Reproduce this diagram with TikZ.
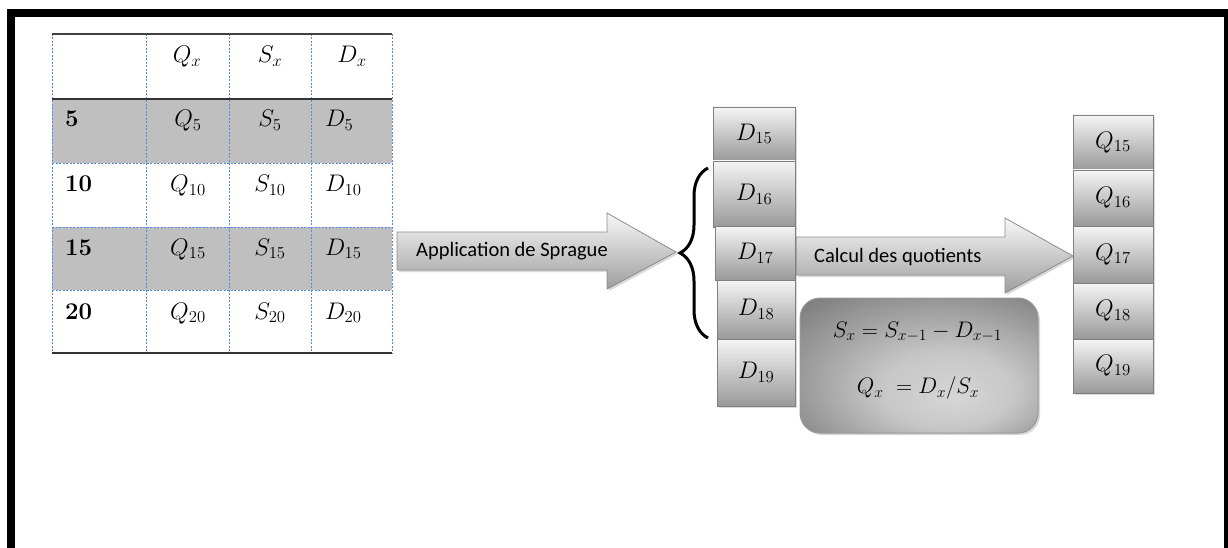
\RequirePackage{fix-cm}
\documentclass[tikz,border=0pt]{standalone}
\usepackage{fontspec}
\newfontfamily\calibri{Carlito}
\usetikzlibrary{shadows,decorations.pathreplacing}
\definecolor{tblue}{RGB}{80,140,230}
\pgfdeclareradialshading{fboxshade}{\pgfpoint{8bp}{-12bp}}{color(0bp)=(black!16); color(14bp)=(black!22); color(38bp)=(black!50); color(60bp)=(black!62)}
\begin{document}
\begin{tikzpicture}[x=1pt,y=-1pt,
  mfont/.style={font=\fontsize{24}{28}\selectfont},
  ffont/.style={font=\fontsize{22.5}{26}\selectfont},
  cell/.style={mfont, inner sep=0pt, anchor=base},
  cellw/.style={mfont, inner sep=0pt, anchor=base west},
  lbl/.style={font=\fontsize{24}{28}\selectfont\bfseries, inner sep=0pt, anchor=base west},
  blueline/.style={draw=tblue, dash pattern=on 2pt off 1.5pt, line width=0.8pt},
  gbox/.style={draw=black!50, line width=0.8pt, top color=black!4, bottom color=black!40,
     drop shadow={opacity=0.3, shadow xshift=2pt, shadow yshift=-2pt}, mfont, inner sep=0pt},
  blockarrow/.style={draw=black!45, line width=0.8pt, top color=black!3, bottom color=black!38,
     drop shadow={opacity=0.3, shadow xshift=2pt, shadow yshift=-2pt}},
  arrowlbl/.style={font=\calibri\fontsize{20.5}{24}\selectfont, inner sep=0pt, anchor=west},
  fbox/.style={draw=black!40, line width=1pt, shade, shading=fboxshade, rounded corners=20pt,
     drop shadow={opacity=0.3, shadow xshift=2pt, shadow yshift=-2pt}, inner sep=0pt}
]
\useasboundingbox (0,0) rectangle (1228,548);
% frame
\fill[black] (7,9) rectangle (1228,17);
\fill[black] (7,9) rectangle (15,548);
\fill[black] (1224,9) rectangle (1228,548);

% table
\fill[black!25] (52,99) rectangle (392,163);
\fill[black!25] (52,227) rectangle (392,290);
\foreach \xx in {52,146,229,311,392} \draw[blueline] (\xx,34) -- (\xx,353);
\foreach \yy in {163,227,290} \draw[blueline] (52,\yy) -- (392,\yy);
\draw[black!75, line width=1.2pt] (52,34) -- (392,34);
\draw[black!80, line width=2pt] (52,99) -- (392,99);
\draw[black!80, line width=1.5pt] (52,353) -- (392,353);

\node[cell] (qh) at (187,63) {$Q_x$};
\node[cell] (sh) at (270,63) {$S_x$};
\node[cell] (dh) at (352,63) {$D_x$};

\node[lbl] (r5) at (65,127) {5};
\node[cell] (q5) at (188,127) {$Q_5$};
\node[cell] (s5) at (270,127) {$S_5$};
\node[cellw] (d5) at (325,127) {$D_5$};

\node[lbl] (r10) at (65,192) {10};
\node[cell] (q10) at (188,192) {$Q_{10}$};
\node[cell] (s10) at (270,192) {$S_{10}$};
\node[cellw] (d10) at (325,192) {$D_{10}$};

\node[lbl] (r15) at (65,255) {15};
\node[cell] (q15t) at (188,255) {$Q_{15}$};
\node[cell] (s15t) at (270,255) {$S_{15}$};
\node[cellw] (d15t) at (325,255) {$D_{15}$};

\node[lbl] (r20) at (65,319) {20};
\node[cell] (q20) at (188,319) {$Q_{20}$};
\node[cell] (s20) at (270,319) {$S_{20}$};
\node[cellw] (d20) at (325,319) {$D_{20}$};

% arrows
\path[blockarrow] (397,232) -- (607,232) -- (607,213) -- (676,252) -- (607,289) -- (607,270) -- (397,270) -- cycle;
\node[arrowlbl] (a1) at (416,251) {Application de Sprague};
\path[blockarrow] (796,237) -- (1005,237) -- (1005,218) -- (1073,256) -- (1005,293) -- (1005,275) -- (796,275) -- cycle;
\node[arrowlbl] (a2) at (814,257) {Calcul des quotients};

% brace
\draw[decorate, decoration={brace, amplitude=28pt}, line width=3pt] (708,338) -- (708,168);

% D boxes
\node[gbox, minimum width=82pt, minimum height=54pt] (d15) at (754,134) {$D_{15}$};
\node[gbox, minimum width=82pt, minimum height=66pt] (d16) at (754,194) {$D_{16}$};
\node[gbox, minimum width=80pt, minimum height=54pt] (d17) at (755,253) {$D_{17}$};
\node[gbox, minimum width=78pt, minimum height=59pt] (d18) at (756,309.5) {$D_{18}$};
\node[gbox, minimum width=78pt, minimum height=67pt] (d19) at (756,372.5) {$D_{19}$};

% Q boxes
\node[gbox, minimum width=80pt, minimum height=55pt] (q15) at (1113,142.5) {$Q_{15}$};
\node[gbox, minimum width=80pt, minimum height=56pt] (q16) at (1113,198) {$Q_{16}$};
\node[gbox, minimum width=80pt, minimum height=57pt] (q17) at (1113,254.5) {$Q_{17}$};
\node[gbox, minimum width=80pt, minimum height=56pt] (q18) at (1113,311) {$Q_{18}$};
\node[gbox, minimum width=80pt, minimum height=54pt] (q19) at (1113,366) {$Q_{19}$};

% formula box
\node[fbox, minimum width=238pt, minimum height=135pt] (fb) at (919,365.5) {};
\node[ffont, inner sep=0pt] (f1) at (917.5,332) {$S_x = S_{x-1} - D_{x-1}$};
\node[ffont, inner sep=0pt] (f2) at (918,388) {$Q_x \;= D_x/S_x$};
\end{tikzpicture}
\end{document}
